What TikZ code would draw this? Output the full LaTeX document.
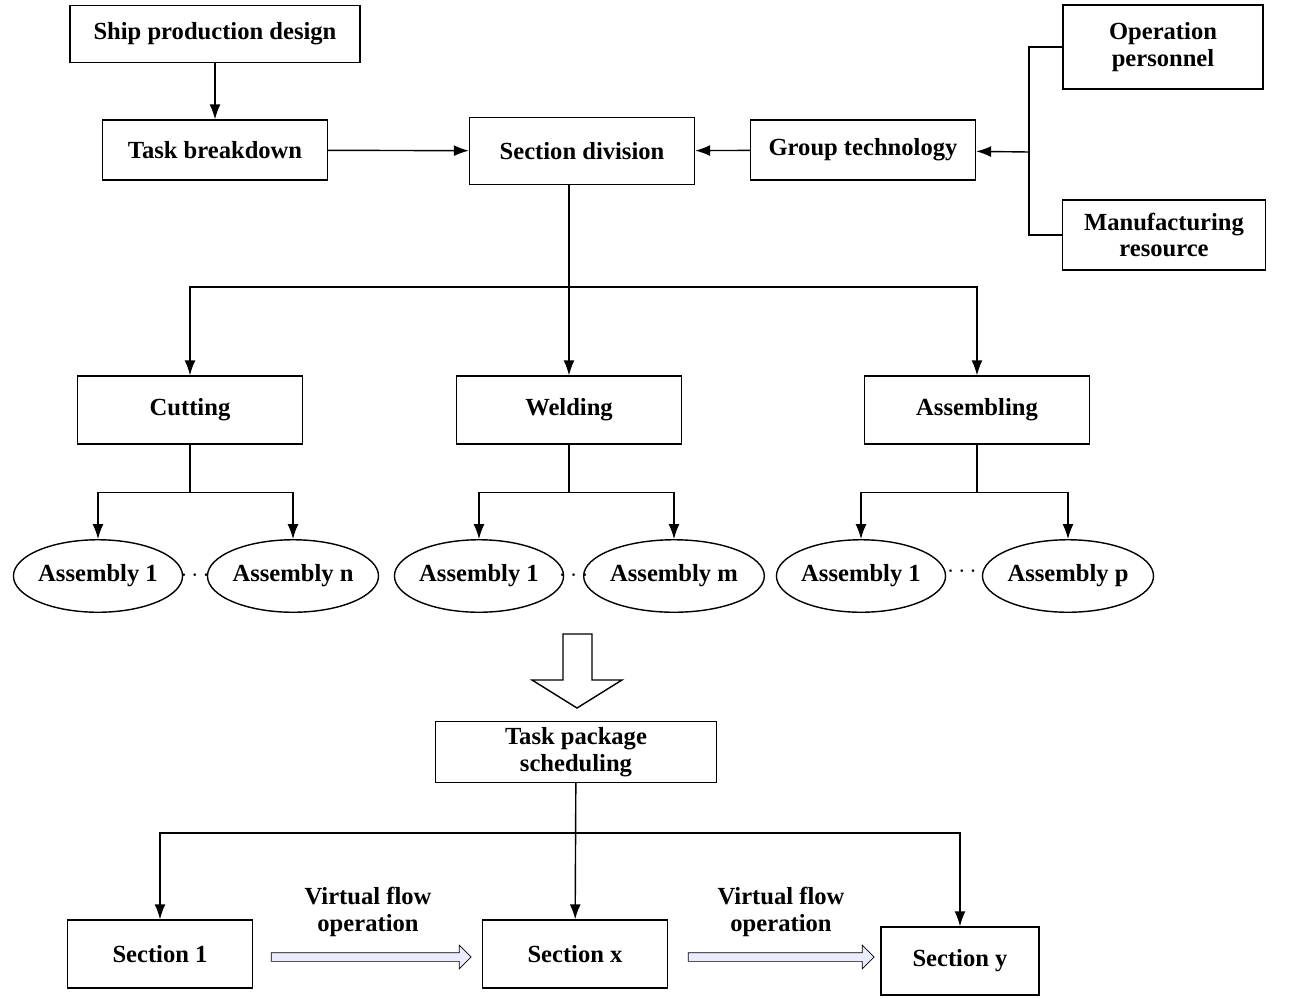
\documentclass[tikz,border=0pt]{standalone}
\usepackage{fontspec}
\setmainfont{Liberation Serif}
\usetikzlibrary{arrows.meta, positioning, shapes, calc}

\begin{document}
\begin{tikzpicture}[x=0.02cm, y=-0.02cm,
    box/.style={draw, thick, minimum width=4.5cm, minimum height=1.25cm, align=center, font=\fontsize{14}{15}\selectfont\bfseries},
    ell/.style={draw, thick, ellipse, minimum width=3.1cm, minimum height=1.45cm, inner sep=0pt, font=\fontsize{14}{15}\selectfont\bfseries},
    arr/.style={-{Latex[length=3mm, width=2.2mm]}, thick},
    flow/.style={single arrow, draw, fill=blue!8, minimum height=4cm, single arrow head extend=1.5mm, minimum width=3mm, inner sep=0.8mm},
    lbl/.style={align=center, font=\fontsize{14}{15}\selectfont\bfseries}
  ]
  \useasboundingbox (0,0) rectangle (1299,998);

  % top row
  \node[box, minimum width=5.8cm, minimum height=1.15cm] (spd) at (215,34) {Ship production design};
  \node[box, minimum height=1.2cm] (tb) at (215,150) {Task breakdown};
  \node[box, minimum height=1.35cm] (sd) at (582,151) {Section division};
  \node[box, minimum height=1.2cm] (gt) at (863,150) {Group technology};
  \node[box, minimum width=4cm, minimum height=1.68cm] (op) at (1163,47) {Operation\\personnel};
  \node[box, minimum width=4.05cm, minimum height=1.4cm] (mr) at (1164,235) {Manufacturing\\resource};
  \coordinate (br) at (1029,152);

  \draw[arr] (spd) -- (tb);
  \draw[arr] (tb) -- (sd);
  \draw[arr] (gt) -- (sd);
  \draw[thick] (op.west) -| (br) |- (mr.west);
  \draw[arr] (br) -- (gt);

  % process level
  \node[box, minimum height=1.36cm] (cut) at (190,410) {Cutting};
  \node[box, minimum height=1.36cm] (wel) at (569,410) {Welding};
  \node[box, minimum height=1.36cm] (asm) at (977,410) {Assembling};
  \coordinate (sj) at (569,287);
  \draw[thick] (sd.south -| sj) -- (sj);
  \draw[arr] (sj) -- (wel);
  \draw[arr] (sj) -| (cut);
  \draw[arr] (sj) -| (asm);

  % assemblies
  \node[ell] (c1) at (98,576) {Assembly 1};
  \node[ell] (cn) at (293,576) {Assembly n};
  \node[ell] (w1) at (479,576) {Assembly 1};
  \node[ell] (wm) at (674,576) {Assembly m};
  \node[ell] (a1) at (861,576) {Assembly 1};
  \node[ell] (ap) at (1068,576) {Assembly p};
  \node[lbl] at ($(c1.east)!0.5!(cn.west)$) {$\cdots$};
  \node[lbl] at ($(w1.east)!0.5!(wm.west)$) {$\cdots$};
  \node[lbl] at (962,572) {$\cdots$};
  \foreach \p/\l/\r in {cut/c1/cn, wel/w1/wm, asm/a1/ap} {
    \coordinate (\p-j) at ($(\p.south)+(0,48)$);
    \draw[thick] (\p.south) -- (\p-j);
    \draw[arr] (\p-j) -| (\l.north);
    \draw[arr] (\p-j) -| (\r.north);
  }

  % hollow arrow
  \draw[thick, fill=white] (563,634) -- (592,634) -- (592,680) -- (622,680) -- (577,708) -- (532,680) -- (563,680) -- cycle;

  % scheduling
  \node[box, minimum width=5.62cm, minimum height=1.22cm] (tps) at (576,752) {Task package\\scheduling};
  \node[box, minimum width=3.7cm, minimum height=1.36cm] (s1) at (160,954) {Section 1};
  \node[box, minimum width=3.7cm, minimum height=1.36cm] (sx) at (575,954) {Section x};
  \node[box, minimum width=3.16cm, minimum height=1.36cm] (sy) at (960,961) {Section y};
  \coordinate (tj) at (576,833);
  \draw[arr] (tps) -- (sx);
  \draw[arr] (tj) -| (s1);
  \draw[arr] (tj) -| (sy);

  \node[flow] (f1) at (369,957) {};
  \node[flow, minimum height=3.72cm] (f2) at (779,957) {};
  \node[lbl] at (368,912) {Virtual flow\\operation};
  \node[lbl] at (781,912) {Virtual flow\\operation};
\end{tikzpicture}
\end{document}
